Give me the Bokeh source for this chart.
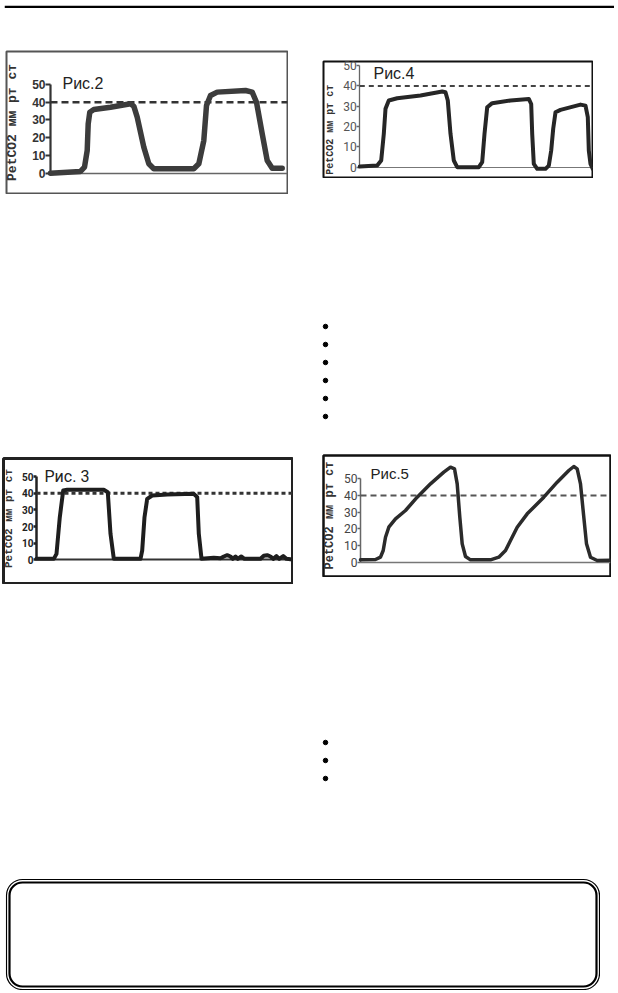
from math import pi

from bokeh.plotting import figure
from bokeh.layouts import column, row
from bokeh.models import Spacer, Range1d, FixedTicker, Label, Span
from bokeh.embed import file_html
from bokeh.resources import INLINE

# ---------------- data ----------------
TICKS = [0, 10, 20, 30, 40, 50]          # PetCO2 axis ticks, mm Hg
THRESHOLD = 40                           # dashed reference level
AXIS_TITLE = "PetCO2 мм рт ст"

TITLE_2 = "Рис.2"
FIG2_T = [0, 3.0, 3.4, 3.67, 3.77, 3.93, 4.33, 6.0, 8.0, 8.33, 8.67, 9.33, 9.83, 10.33,
          14.33, 14.83, 15.33, 15.6, 16.0, 16.67, 19.5, 20.17, 20.6, 21.17, 21.67, 22.17, 23.17]
FIG2_V = [0, 1, 3.4, 12.8, 27.8, 34.4, 35.9, 37.2, 39.1, 37.8, 31.6, 14.7, 5.3, 2.5,
          2.5, 5.3, 18.4, 38.2, 43.8, 45.7, 46.6, 45.7, 40, 22.2, 7.2, 2.8, 2.8]

TITLE_4 = "Рис.4"
FIG4_T = [0, 1.74, 2.14, 2.4, 2.57, 2.9, 3.74, 6.07, 8.24, 8.57, 8.8, 9.07, 9.4, 9.74,
          11.9, 12.24, 12.47, 12.74, 13.24, 15.07, 16.9, 17.14, 17.24, 17.4, 17.74, 18.57,
          18.9, 19.14, 19.34, 19.57, 20.07, 22.07, 22.57, 22.8, 22.9, 23.07, 23.3]
FIG4_V = [0.3, 0.8, 3.3, 16.4, 28.7, 32.8, 33.9, 35.3, 37.2, 36.9, 32.8, 16.4, 3.3, 0,
          0, 2.5, 16.4, 29.5, 31.5, 32.8, 33.6, 31.1, 16.4, 1.6, -0.8, -0.8,
          0.8, 8.2, 18.9, 27, 28.2, 30.8, 30.3, 24.6, 8.2, 1.6, -0.8]

TITLE_3 = "Рис. 3"
FIG3_T = [0, 1.73, 2.0, 2.33, 2.67, 3.07, 6.73, 7.13, 7.4, 7.73, 10.4, 10.57, 10.8, 11.07,
          11.57, 13.07, 15.73, 16.07, 16.23, 16.5, 17.73, 18.4, 18.73, 19.07, 19.4, 19.63,
          19.9, 20.13, 20.47, 20.8, 22.4, 22.73, 23.07, 23.4, 23.67, 24.0, 24.27, 24.67, 25.0, 25.6]
FIG3_V = [0.6, 0.6, 3.6, 25.6, 41.6, 42, 42, 40.6, 15.6, 0.6, 0.6, 5.6, 25.6, 36.6,
          38.6, 39.2, 39.6, 37.6, 15.6, 0.6, 1.2, 1.0, 2, 2.8, 2, 0.6,
          2, 0.6, 2, 0.6, 0.6, 2.4, 2.8, 2, 0.6, 2.2, 0.6, 2.2, 0.6, 0.2]

TITLE_5 = "Рис.5"
FIG5_T = [0, 1.5, 2.0, 2.27, 2.5, 2.83, 3.5, 4.5, 5.67, 7.0, 8.33, 9.0, 9.4, 9.67, 9.93,
          10.17, 10.5, 11.0, 13.0, 13.83, 14.5, 15.0, 15.67, 16.67, 18.33, 19.67, 20.83,
          21.33, 21.67, 22.0, 22.33, 22.6, 23.0, 23.67, 25.0]
FIG5_V = [1.4, 1.6, 3, 7, 15, 21, 26, 31, 39, 47, 54, 57, 56, 47, 27,
          11, 3.4, 1.4, 1.4, 3, 7, 13, 21, 29, 39, 48, 55,
          57.4, 56, 47, 27, 11, 3, 1, 1.2]

BULLETS_1 = [0, 1, 2, 3, 4, 5]
BULLETS_2 = [0, 1, 2]


# ---------------- helpers ----------------
def blank(w, h, xr, yr):
    p = figure(width=w, height=h, x_range=Range1d(*xr), y_range=Range1d(*yr),
               x_axis_type=None, y_axis_type=None, output_backend="svg",
               toolbar_location=None, min_border=0, outline_line_color=None,
               background_fill_color="white", border_fill_color="white")
    p.xgrid.visible = False
    p.ygrid.visible = False
    return p


def chart(w, h, xr, yr, t, v, title, title_xy, title_font, title_size, title_style,
          ylab_xy, ylab_size, curve_color, curve_width, box_color, box_width,
          yaxis_color, yaxis_width, xaxis_color, xaxis_width,
          tick_font, tick_size, tick_style, tick_color, tick_out,
          dash, dash_color, dash_width):
    p = figure(width=w, height=h, x_range=Range1d(*xr), y_range=Range1d(*yr),
               output_backend="svg", toolbar_location=None, min_border=1,
               outline_line_color=box_color, outline_line_width=box_width,
               background_fill_color="white", border_fill_color="white")
    p.xgrid.visible = False
    p.ygrid.visible = False

    ya = p.yaxis[0]
    ya.fixed_location = 0
    ya.bounds = (TICKS[0], TICKS[-1])
    ya.ticker = FixedTicker(ticks=TICKS)
    ya.minor_tick_line_color = None
    ya.major_tick_out = tick_out
    ya.major_tick_in = 0
    ya.major_tick_line_color = yaxis_color
    ya.major_tick_line_width = yaxis_width
    ya.axis_line_color = yaxis_color
    ya.axis_line_width = yaxis_width
    ya.major_label_standoff = 0
    ya.major_label_text_font = tick_font
    ya.major_label_text_font_size = tick_size
    ya.major_label_text_font_style = tick_style
    ya.major_label_text_color = tick_color
    ya.level = "underlay"

    xa = p.xaxis[0]
    xa.fixed_location = 0
    xa.bounds = (0, xr[1])
    xa.ticker = FixedTicker(ticks=[])
    xa.minor_tick_line_color = None
    xa.major_tick_line_color = None
    xa.major_label_text_font_size = "0px"
    xa.axis_line_color = xaxis_color
    xa.axis_line_width = xaxis_width
    xa.level = "underlay"

    p.line([0, xr[1]], [THRESHOLD, THRESHOLD], line_dash=dash,
           line_color=dash_color, line_width=dash_width)
    p.line(t, v, line_color=curve_color, line_width=curve_width,
           line_join="round", line_cap="round")

    p.add_layout(Label(x=title_xy[0], y=title_xy[1], text=title,
                       text_font=title_font, text_font_size=title_size,
                       text_font_style=title_style, text_color="#222222",
                       text_align="left", text_baseline="middle"))
    p.add_layout(Label(x=ylab_xy[0], y=ylab_xy[1], text=AXIS_TITLE, angle=pi / 2,
                       text_font="Liberation Mono", text_font_style="bold",
                       text_font_size=ylab_size, text_color="#333333",
                       text_align="center", text_baseline="middle"))
    return p


def bullets(items, h):
    span = h / 18.0
    p = blank(26, h, (-1, 1), (-(span - 0.555), 0.555))
    p.scatter([0] * len(items), [-i for i in items], size=4.5,
              marker="circle", color="black")
    return p


# ---------------- header ----------------
header = blank(610, 8, (0, 1), (0, 8))
header.add_layout(Span(location=5.2, dimension="width", line_color="black", line_width=3))
header.add_layout(Span(location=1.6, dimension="width", line_color="black", line_width=1.4))

# ---------------- charts ----------------
fig2 = chart(283, 144, (-4.4, 23.7), (-11.44, 68.6), FIG2_T, FIG2_V,
             TITLE_2, (1.2, 50.6), "Liberation Sans", "16px", "normal",
             (-3.8, 28.6), "13px", "#3c3c3c", 5.5, "#555555", 2,
             "#333333", 2.2, "#666666", 1.5,
             "Liberation Sans", "12px", "bold", "#333333", 5,
             "7 4", "#333333", 2.5)

fig4 = chart(271, 118, (-3.63, 23.27), (-5.07, 52.0), FIG4_T, FIG4_V,
             TITLE_4, (1.37, 46.3), "Liberation Sans", "16px", "normal",
             (-2.93, 18.4), "10px", "#262626", 4, "#111111", 2,
             "#666666", 1.3, "#777777", 1.2,
             "Roboto", "12px", "normal", "#555555", 3,
             "5 4", "#444444", 2)

fig3 = chart(291, 127, (-3.3, 25.6), (-14.2, 60.8), FIG3_T, FIG3_V,
             TITLE_3, (0.8, 50), "Roboto", "16px", "normal",
             (-2.75, 24.8), "11px", "#1e1e1e", 4, "#222222", 3,
             "#222222", 2.5, "#333333", 2,
             "Roboto", "10px", "bold", "#222222", 3,
             "4 3", "#333333", 3)

fig5 = chart(289, 123, (-3.7, 25.0), (-8.58, 64.0), FIG5_T, FIG5_V,
             TITLE_5, (1.0, 53.5), "Liberation Sans", "15px", "normal",
             (-3.1, 28.0), "12px", "#2b2b2b", 3.5, "#111111", 2.5,
             "#666666", 1.5, "#777777", 1.5,
             "Roboto", "12px", "normal", "#444444", 3,
             "6 4", "#555555", 2)

# ---------------- rounded frame at bottom ----------------
box = blank(595, 112, (0, 595), (0, 112))
box.quad(left=[1], right=[594], bottom=[1], top=[111], fill_color=None,
         line_color="black", line_width=1.2, border_radius=16)
box.quad(left=[4], right=[591], bottom=[4], top=[108], fill_color=None,
         line_color="black", line_width=2.2, border_radius=13)

# ---------------- layout ----------------
row_a = row(Spacer(width=5, height=10),
            column(Spacer(width=283, height=42), fig2),
            Spacer(width=34, height=10),
            column(Spacer(width=271, height=52), fig4))
row_b = row(Spacer(width=2, height=10),
            column(Spacer(width=291, height=3), fig3),
            Spacer(width=29, height=10),
            fig5)
page = column(
    row(Spacer(width=4, height=8), header),
    row_a,
    Spacer(width=10, height=122),
    row(Spacer(width=312, height=10), bullets(BULLETS_1, 110)),
    Spacer(width=10, height=28),
    row_b,
    Spacer(width=10, height=148),
    row(Spacer(width=312, height=10), bullets(BULLETS_2, 56)),
    Spacer(width=10, height=90),
    row(Spacer(width=5, height=10), box),
)

open("out.html", "w").write(file_html(page, INLINE))
